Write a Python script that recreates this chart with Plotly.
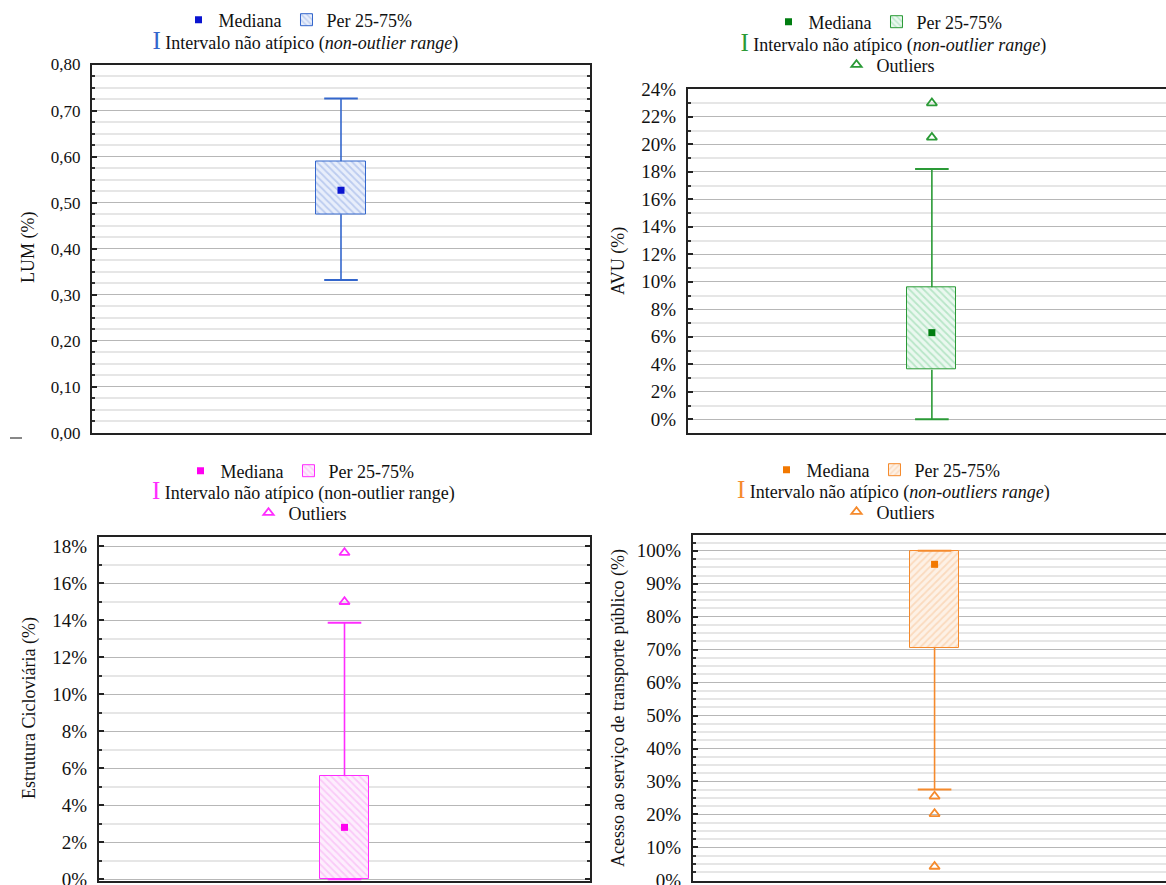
import plotly.graph_objects as go

# ---------------- data ----------------
panel_keys = ["LUM", "AVU", "CIC", "ATP"]
y_titles = ["LUM (%)", "AVU (%)", "Estrutura Cicloviária (%)",
            "Acesso ao serviço de transporte público (%)"]
q1_vals = [0.475, 3.6, 0.0, 70.6]
median_vals = [0.527, 6.3, 2.8, 95.9]
q3_vals = [0.590, 9.6, 5.57, 100.0]
whisker_low = [0.332, 0.0, 0.0, 27.6]
whisker_high = [0.726, 18.2, 13.87, 100.0]
outliers_lum = []
outliers_avu = [23.0, 20.5]
outliers_cic = [17.65, 15.0]
outliers_atp = [25.5, 20.2, 4.2]
outlier_lists = [outliers_lum, outliers_avu, outliers_cic, outliers_atp]
legend_median = "Mediana"
legend_box = "Per 25-75%"
legend_range = ["Intervalo não atípico (<i>non-outlier range</i>)",
                "Intervalo não atípico (<i>non-outlier range</i>)",
                "Intervalo não atípico (non-outlier range)",
                "Intervalo não atípico (<i>non-outliers range</i>)"]
legend_outliers = "Outliers"

# ---------------- styling ----------------
W, H = 1166, 885
FONT = "Liberation Serif"


def X(px):
    return px / W


def Y(px):
    return 1 - px / H


styles = [
    dict(line="#3366cc", med="#0a14d0", fg="#8fa9e3", bg="#e8eefb", shape="\\"),
    dict(line="#2a9a36", med="#007d10", fg="#86d3a0", bg="#eaf8ef", shape="\\"),
    dict(line="#ff2cff", med="#ff00f0", fg="#f7a6f3", bg="#fdeefd", shape="\\"),
    dict(line="#f58a2c", med="#f27800", fg="#f8c496", bg="#fdf1e6", shape="/"),
]

# plot-area pixel boxes: (left, right, top, bottom)
boxes = [(92, 590, 64.5, 433), (688, 1166, 89.3, 433),
         (99, 590, 537, 881), (693, 1166, 535, 881)]
x_ranges = [[0, 1], [0, 0.98], [0, 1], [0, 0.979]]
y_ranges = [[0, 0.80], [-1.0, 24], [-0.1, 18.5], [-0.2, 104.8]]
y_dtick = [0.1, 2, 2, 10]
y_minor = [0.025, 1, 1, 2.5]
tickfmt = [".2f", "d", "d", "d"]
ticksuf = ["", "%", "%", "%"]
tickfont_size = [17, 19, 19, 19]
title_pos = [(29, 248), (618, 261), (29, 708), (618, 708)]
# legend rows: (center x px, y px) for row1, row2, row3
legend_rows = [
    [(298, 20), (288, 42), None],
    [(888, 22), (876, 44), (888, 65)],
    [(300, 471), (286, 492), (300, 513)],
    [(886, 470), (876, 491), (888, 512)],
]

fig = go.Figure()
layout = dict(
    width=W, height=H, margin=dict(l=0, r=0, t=0, b=0, autoexpand=False),
    paper_bgcolor="white", plot_bgcolor="white",
    separators=",.", showlegend=True,
    font=dict(family=FONT, size=18, color="#111"),
)
annotations = []
leg_counter = [0]


def new_legend(cx, cy, orient="h"):
    leg_counter[0] += 1
    n = leg_counter[0]
    name = "legend" if n == 1 else f"legend{n}"
    layout[name] = dict(
        x=X(cx), y=Y(cy), xanchor="center", yanchor="middle",
        orientation=orient, bgcolor="rgba(0,0,0,0)", borderwidth=0,
        font=dict(family=FONT, size=18, color="#111"),
        itemclick=False, itemdoubleclick=False, tracegroupgap=0,
        traceorder="normal",
    )
    return name


for i in range(4):
    k = "" if i == 0 else str(i + 1)
    xa, ya = "x" + k, "y" + k
    st = styles[i]
    l, r, t, b = boxes[i]
    c = 0.5
    bw = 0.1

    rows = legend_rows[i]
    leg1 = new_legend(*rows[0])
    leg2 = new_legend(*rows[1])
    leg3 = new_legend(*rows[2]) if rows[2] else None

    # box (25-75 percentile)
    fig.add_trace(go.Bar(
        x=[c], y=[q3_vals[i] - q1_vals[i]], base=[q1_vals[i]], width=bw,
        xaxis=xa, yaxis=ya, name=legend_box, legend=leg1, legendrank=2,
        marker=dict(color=st["bg"],
                    line=dict(color=st["line"], width=1),
                    pattern=dict(shape=st["shape"], fgcolor=st["fg"],
                                 bgcolor=st["bg"], size=5, solidity=0.35,
                                 fillmode="overlay")),
        hoverinfo="skip",
    ))
    # whisker stems
    fig.add_trace(go.Scatter(
        x=[c, c, None, c, c],
        y=[q3_vals[i], whisker_high[i], None, q1_vals[i], whisker_low[i]],
        mode="lines", line=dict(color=st["line"], width=1.6),
        xaxis=xa, yaxis=ya, showlegend=False, hoverinfo="skip",
    ))
    # whisker caps
    fig.add_trace(go.Scatter(
        x=[c, c], y=[whisker_low[i], whisker_high[i]], mode="markers",
        marker=dict(symbol="line-ew", size=24,
                    line=dict(color=st["line"], width=2)),
        xaxis=xa, yaxis=ya, showlegend=False, hoverinfo="skip",
    ))
    # median
    fig.add_trace(go.Scatter(
        x=[c], y=[median_vals[i]], mode="markers", name=legend_median,
        legend=leg1, legendrank=1,
        marker=dict(symbol="square", size=7, color=st["med"]),
        xaxis=xa, yaxis=ya, hoverinfo="skip",
    ))
    # legend entry for the non-outlier range (I-beam glyph)
    fig.add_trace(go.Scatter(
        x=[None], y=[None], mode="markers",
        name=f"<span style='color:{st['line']};font-size:25px'>I</span> {legend_range[i]}",
        legend=leg2,
        marker=dict(size=1, color="rgba(0,0,0,0)"),
        xaxis=xa, yaxis=ya, hoverinfo="skip",
    ))
    # outliers
    if leg3:
        outs = outlier_lists[i]
        fig.add_trace(go.Scatter(
            x=[c] * len(outs), y=outs, mode="markers", name=legend_outliers,
            legend=leg3,
            marker=dict(symbol="triangle-up-open", size=9,
                        line=dict(color=st["line"], width=1.8),
                        color=st["line"]),
            xaxis=xa, yaxis=ya, hoverinfo="skip",
        ))

    mirror_y = "ticks" if i in (0, 2) else False
    layout["xaxis" + k] = dict(
        domain=[X(l), X(r)], range=x_ranges[i], anchor=ya,
        showgrid=False, zeroline=False, showticklabels=False, ticks="",
        showline=True, linecolor="#222", linewidth=2, mirror=True,
        fixedrange=True,
    )
    layout["yaxis" + k] = dict(
        domain=[Y(b), Y(t)], range=y_ranges[i], anchor=xa,
        dtick=y_dtick[i], tick0=0, tickformat=tickfmt[i],
        ticksuffix=ticksuf[i], ticklabeloverflow="allow",
        tickfont=dict(family=FONT, size=tickfont_size[i], color="#111"),
        showgrid=True, gridcolor="#b7b7b7", gridwidth=1,
        zeroline=False, showline=True, linecolor="#222", linewidth=2,
        mirror=mirror_y, ticks="inside", ticklen=5, tickcolor="#222",
        tickwidth=1.5, ticklabelstandoff=6,
        minor=dict(dtick=y_minor[i], tick0=0, showgrid=True,
                   gridcolor="#e6e6e6", gridwidth=2, ticks="inside",
                   ticklen=3, tickcolor="#333"),
        fixedrange=True,
    )
    tx, ty = title_pos[i]
    annotations.append(dict(
        x=X(tx), y=Y(ty), xref="paper", yref="paper", text=y_titles[i],
        textangle=-90, showarrow=False, xanchor="center", yanchor="middle",
        font=dict(family=FONT, size=18, color="#111"),
    ))

layout["annotations"] = annotations
layout["shapes"] = [dict(type="line", xref="paper", yref="paper",
                         x0=X(10), x1=X(22), y0=Y(438), y1=Y(438),
                         line=dict(color="#111", width=1))]
layout["bargap"] = 0
fig.update_layout(**layout)
fig.write_html("out.html",
               config={"displayModeBar": False, "staticPlot": False},
               post_script="document.body.style.margin='0px';")
